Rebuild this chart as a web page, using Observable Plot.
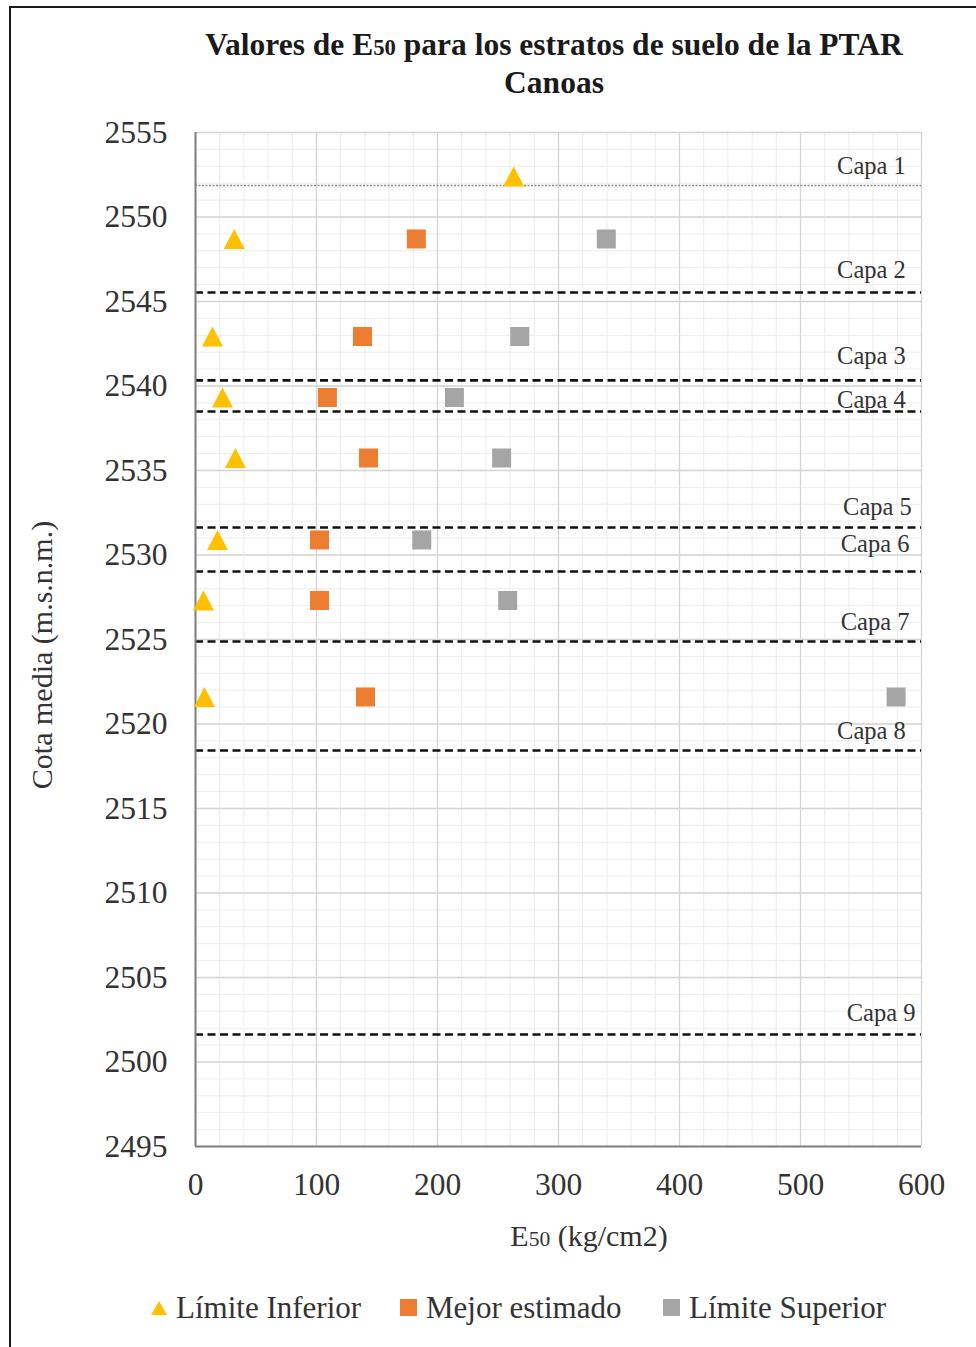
<!DOCTYPE html>
<html>
<head>
<meta charset="utf-8">
<script src="https://cdn.jsdelivr.net/npm/d3@7"></script>
<script src="https://cdn.jsdelivr.net/npm/@observablehq/plot@0.6"></script>
<style>
  html, body { margin: 0; padding: 0; background: #fff; }
  #page { position: relative; width: 976px; height: 1347px; overflow: hidden; font-family: "Liberation Serif", serif; color: #262626; }
  #frame { position: absolute; left: 9px; top: 6px; width: 1000px; height: 1400px; border-left: 2px solid #1a1a1a; border-top: 2px solid #1a1a1a; }
  #title { position: absolute; left: 154px; width: 800px; top: 27px; text-align: center; font-weight: bold; font-size: 31.5px; line-height: 35px; color: #1a1a1a; }
  #title .t { white-space: nowrap; }
  .sm { font-size: 0.72em; }
  #chart { position: absolute; left: 0; top: 100px; }
  #ylabel { position: absolute; left: 42px; top: 655px; transform: translate(-50%, -50%) rotate(-90deg); font-size: 30px; white-space: nowrap; color: #333; }
  #xlabel { position: absolute; left: 589px; top: 1236px; transform: translate(-50%, -50%); font-size: 30px; white-space: nowrap; color: #333; }
  .leg { position: absolute; top: 1290px; font-size: 31px; white-space: nowrap; color: #333; display: flex; align-items: center; height: 36px; }
  .leg svg { margin-right: 8px; }
</style>
</head>
<body>
<div id="page">
  <div id="frame"></div>
  <div id="title"><span class="t">Valores de E<span class="sm">50</span> para los estratos de suelo de la PTAR</span><br><span class="t">Canoas</span></div>
  <div id="chart"></div>
  <div id="ylabel">Cota media (m.s.n.m.)</div>
  <div id="xlabel">E<span class="sm">50</span> (kg/cm2)</div>
  <div id="legend"></div>
</div>
<script>
// ---- data ----
const seriesNames = ["Límite Inferior", "Mejor estimado", "Límite Superior"];
const seriesColors = ["#FFC000", "#ED7D31", "#A5A5A5"];

const cotaInferior = [2552.4, 2548.7, 2542.93, 2539.32, 2535.74, 2530.89, 2527.31, 2521.6];
const limiteInferior = [263, 32, 14, 22.3, 33, 18.2, 6.6, 7.4];

const cota = [2548.7, 2542.93, 2539.32, 2535.74, 2530.89, 2527.31, 2521.6];
const mejorEstimado = [182.5, 138, 109, 143, 102.5, 102.5, 140.5];
const limiteSuperior = [339.5, 268, 214, 253, 187, 258, 579];

const capas = ["Capa 1", "Capa 2", "Capa 3", "Capa 4", "Capa 5", "Capa 6", "Capa 7", "Capa 8", "Capa 9"];
const capaCota = [2551.86, 2545.53, 2540.33, 2538.49, 2531.63, 2529.02, 2524.88, 2518.43, 2501.63];
const capaLabelCota = [2552.99, 2546.83, 2541.75, 2539.14, 2532.81, 2530.62, 2526.0, 2519.6, 2502.87];
const capaLabelE = [587, 587, 587, 587, 592, 590, 590, 587, 595];

const xTicks = [0, 100, 200, 300, 400, 500, 600];
const yTicks = [2495, 2500, 2505, 2510, 2515, 2520, 2525, 2530, 2535, 2540, 2545, 2550, 2555];
const xMinor = d3.range(0, 601, 20);
const yMinor = d3.range(2495, 2556, 1);

// ---- build tables ----
const inf = cotaInferior.map((c, i) => ({cota: c, e: limiteInferior[i]}));
const mej = cota.map((c, i) => ({cota: c, e: mejorEstimado[i]}));
const sup = cota.map((c, i) => ({cota: c, e: limiteSuperior[i]}));
const capaRows = capas.map((n, i) => ({name: n, cota: capaCota[i], lc: capaLabelCota[i], le: capaLabelE[i], first: i === 0}));

const triangle = {
  draw(ctx, size) {
    const r = Math.sqrt(size / Math.PI);
    ctx.moveTo(0, -r);
    ctx.lineTo(r * 1.05, r);
    ctx.lineTo(-r * 1.05, r);
    ctx.closePath();
  }
};
const square = {
  draw(ctx, size) {
    const r = Math.sqrt(size / Math.PI);
    ctx.rect(-r, -r, 2 * r, 2 * r);
  }
};

const chart = Plot.plot({
  width: 976,
  height: 1180,
  marginTop: 32,
  marginBottom: 134,
  marginLeft: 195,
  marginRight: 55,
  x: {domain: [0, 600]},
  y: {domain: [2495, 2555]},
  style: {fontFamily: "Liberation Serif", fontSize: "31px", color: "#333", background: "transparent", overflow: "visible"},
  marks: [
    Plot.ruleX(xMinor, {stroke: "#ececec", strokeWidth: 1}),
    Plot.ruleY(yMinor, {stroke: "#ececec", strokeWidth: 1}),
    Plot.ruleX(xTicks, {stroke: "#d4d4d4", strokeWidth: 1.3}),
    Plot.ruleY(yTicks, {stroke: "#d4d4d4", strokeWidth: 1.3}),
    Plot.ruleY(capaRows.filter(d => d.first), {y: "cota", stroke: "#8a8a8a", strokeWidth: 1.6, strokeDasharray: "2,1.5"}),
    Plot.ruleY(capaRows.filter(d => !d.first), {y: "cota", stroke: "#111", strokeWidth: 2.6, strokeDasharray: "8,4.5"}),
    Plot.text(capaRows, {x: "le", y: "lc", text: "name", textAnchor: "end", fontSize: 24.5, fill: "#333"}),
    Plot.axisX({ticks: xTicks, tickSize: 0, tickPadding: 26, label: null, tickFormat: d3.format("d"), fontSize: 31.5}),
    Plot.axisY({ticks: yTicks, tickSize: 0, tickPadding: 28, label: null, tickFormat: d3.format("d"), fontSize: 31.5}),
    Plot.ruleX([0], {stroke: "#808080", strokeWidth: 2}),
    Plot.ruleY([2495], {stroke: "#808080", strokeWidth: 2}),
    Plot.dot(inf, {x: "e", y: "cota", symbol: triangle, r: 10, fill: seriesColors[0], stroke: null}),
    Plot.dot(mej, {x: "e", y: "cota", symbol: square, r: 9.5, fill: seriesColors[1], stroke: null}),
    Plot.dot(sup, {x: "e", y: "cota", symbol: square, r: 9.5, fill: seriesColors[2], stroke: null})
  ]
});
document.getElementById("chart").appendChild(chart);

// ---- legend ----
const legendLeft = [150, 400, 663];
const legend = document.getElementById("legend");
seriesNames.forEach((name, i) => {
  const div = document.createElement("div");
  div.className = "leg";
  div.style.left = legendLeft[i] + "px";
  const icon = i === 0
    ? `<svg width="18" height="18"><polygon points="9,2 17,16 1,16" fill="${seriesColors[i]}"/></svg>`
    : `<svg width="18" height="18"><rect x="0" y="0" width="17" height="17" fill="${seriesColors[i]}"/></svg>`;
  div.innerHTML = icon + `<span>${name}</span>`;
  legend.appendChild(div);
});
</script>
</body>
</html>
